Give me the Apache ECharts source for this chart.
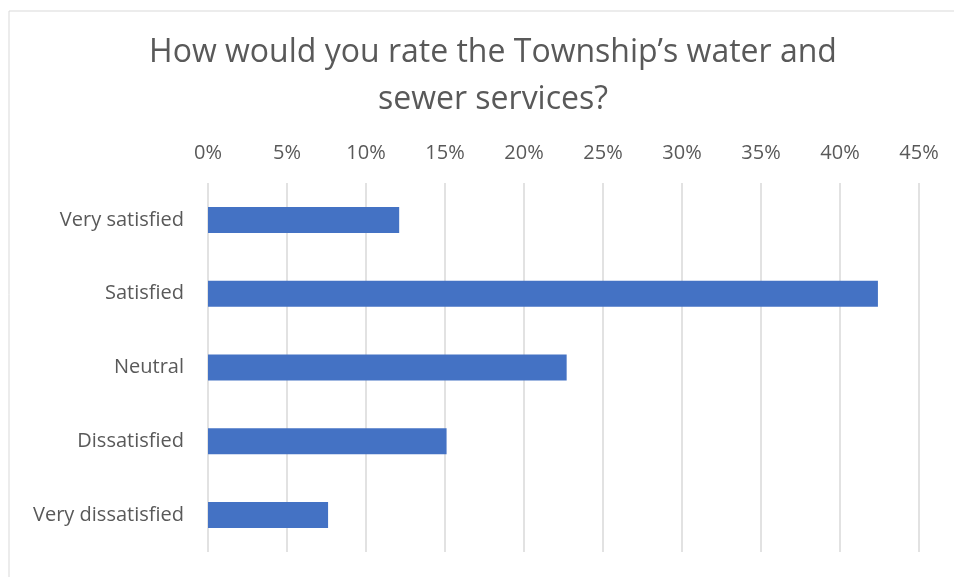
<!DOCTYPE html>
<html>
<head>
<meta charset="utf-8">
<script src="https://cdn.jsdelivr.net/npm/echarts@6/dist/echarts.min.js"></script>
<style>
  html, body { margin: 0; padding: 0; background: #fff; }
  #chart { width: 954px; height: 577px; }
</style>
</head>
<body>
<div id="chart"></div>
<script>
  // data
  const categories = ['Very satisfied', 'Satisfied', 'Neutral', 'Dissatisfied', 'Very dissatisfied']
  const shares = [12.1, 42.4, 22.7, 15.1, 7.6]
  const titleText = 'How would you rate the Township\u2019s water and\nsewer services?'

  const chart = echarts.init(document.getElementById('chart'))
  const textColor = '#595959'
  const fontFamily = '"Open Sans", "Noto Sans", sans-serif'

  chart.setOption({
    animation: false,
    graphic: [{
      type: 'rect',
      shape: { x: 9, y: 11, width: 960, height: 600 },
      style: { fill: 'none', stroke: '#d9d9d9', lineWidth: 1 },
      silent: true
    }],
    title: {
      text: titleText,
      left: 488,
      top: 24,
      textAlign: 'center',
      textStyle: {
        color: textColor,
        fontFamily,
        fontWeight: 'normal',
        fontSize: 32,
        lineHeight: 47
      }
    },
    grid: {
      left: 208,
      right: 35,
      top: 183,
      height: 369
    },
    xAxis: {
      type: 'value',
      position: 'top',
      min: 0,
      max: 45,
      interval: 5,
      axisLine: { show: false },
      axisTick: { show: false },
      axisLabel: {
        formatter: v => v + '%',
        color: textColor,
        fontFamily,
        fontSize: 20,
        margin: 20
      },
      splitLine: { lineStyle: { color: '#d9d9d9', width: 1.5 } }
    },
    yAxis: {
      type: 'category',
      data: categories,
      inverse: true,
      axisLine: { show: false },
      axisTick: { show: false },
      axisLabel: {
        color: textColor,
        fontFamily,
        fontSize: 20,
        margin: 24
      }
    },
    series: [{
      type: 'bar',
      data: shares,
      barWidth: 26,
      itemStyle: { color: '#4472c4' }
    }]
  })
</script>
</body>
</html>
